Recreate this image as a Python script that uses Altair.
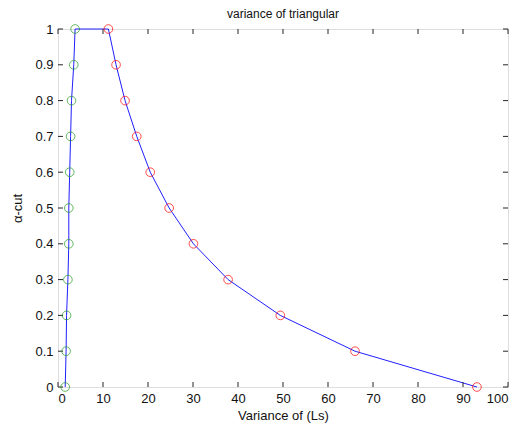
import altair as alt
import pandas as pd

alpha = [0.0, 0.1, 0.2, 0.3, 0.4, 0.5, 0.6, 0.7, 0.8, 0.9, 1.0]
green_x = [1.6, 1.8, 1.9, 2.2, 2.4, 2.4, 2.6, 2.8, 3.0, 3.5, 3.8]
red_x = [93.1, 66.0, 49.4, 37.8, 30.1, 24.7, 20.5, 17.5, 14.9, 12.9, 11.2]
x_ticks = [0, 10, 20, 30, 40, 50, 60, 70, 80, 90, 100]
y_ticks = [0, 0.1, 0.2, 0.3, 0.4, 0.5, 0.6, 0.7, 0.8, 0.9, 1]

W, H = 450, 358

green = pd.DataFrame({"x": green_x, "y": alpha})
red = pd.DataFrame({"x": red_x, "y": alpha})
line_df = pd.DataFrame({
    "x": green_x + red_x[::-1],
    "y": alpha + alpha[::-1],
    "o": list(range(len(alpha) * 2)),
})
xt = pd.DataFrame({"v": x_ticks})
yt = pd.DataFrame({"v": y_ticks})

xscale = alt.Scale(domain=[0, 100], nice=False, zero=False)
yscale = alt.Scale(domain=[0, 1], nice=False, zero=False)

font = "Liberation Sans"

xaxis = alt.Axis(
    values=x_ticks, title="Variance of (Ls)", ticks=False, domain=False, grid=False,
    labelPadding=5, labelFontSize=13, titleFontSize=13, titleFontWeight="normal",
    labelColor="#111", titleColor="#111", titlePadding=4, labelFont=font, titleFont=font,
    labelOverlap=False)
yaxis = alt.Axis(
    values=y_ticks, format="~g", title="α-cut", ticks=False, domain=False, grid=False,
    labelPadding=5, labelFontSize=13, titleFontSize=13, titleFontWeight="normal",
    labelColor="#111", titleColor="#111", titlePadding=10, labelFont=font, titleFont=font,
    labelOverlap=False, labelBound=False)


def X(f):
    return alt.X(f, scale=xscale, axis=xaxis)


def Y(f):
    return alt.Y(f, scale=yscale, axis=yaxis)


line = alt.Chart(line_df).mark_line(color="#2020ff", strokeWidth=1).encode(
    x=X("x:Q"), y=Y("y:Q"), order="o:Q")

pts_g = alt.Chart(green).mark_point(shape="circle", filled=False, color="#1f9a1f",
                                    size=75, strokeWidth=1).encode(x=X("x:Q"), y=Y("y:Q"))
pts_r = alt.Chart(red).mark_point(shape="circle", filled=False, color="#ff0000",
                                  size=75, strokeWidth=1).encode(x=X("x:Q"), y=Y("y:Q"))

tick_col = "#262626"
tb = alt.Chart(xt).mark_rule(color=tick_col, strokeWidth=1).encode(
    x=X("v:Q"), y=alt.value(H), y2=alt.value(H - 5))
tt = alt.Chart(xt).mark_rule(color=tick_col, strokeWidth=1).encode(
    x=X("v:Q"), y=alt.value(0), y2=alt.value(5))
tl = alt.Chart(yt).mark_rule(color=tick_col, strokeWidth=1).encode(
    y=Y("v:Q"), x=alt.value(0), x2=alt.value(5))
tr = alt.Chart(yt).mark_rule(color=tick_col, strokeWidth=1).encode(
    y=Y("v:Q"), x=alt.value(W), x2=alt.value(W - 5))

chart = alt.layer(line, tb, tt, tl, tr, pts_g, pts_r).properties(
    width=W, height=H,
    title=alt.TitleParams("variance of triangular", fontSize=12, fontWeight="normal",
                          font=font, color="#111", offset=2),
    autosize=alt.AutoSizeParams(type="none"),
    padding={"left": 50, "top": 21, "right": 9, "bottom": 39},
).configure_view(stroke="#262626", strokeWidth=1).configure(background="white")

chart.save("out.html", embed_options={"renderer": "svg", "actions": False})
